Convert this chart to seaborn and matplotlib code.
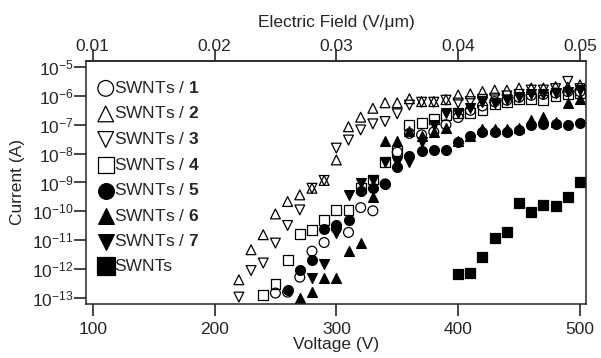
import numpy as np
import pandas as pd
import matplotlib
matplotlib.use("Agg")
import matplotlib.pyplot as plt
import seaborn as sns
from matplotlib.ticker import FixedLocator, NullLocator, FormatStrFormatter

# ================================
# Data (voltage in V, current given as log10 of amps)
# ================================
voltage = [220, 230, 240, 250, 260, 270, 280, 290, 300, 310, 320, 330, 340, 350, 360,
           370, 380, 390, 400, 410, 420, 430, 440, 450, 460, 470, 480, 490, 500]

# SWNTs / 1 (open circle), starts at 250 V
log_i1 = [-12.83, -12.80, -12.28, -11.38, -11.08, -10.60, -10.73, -9.87, -9.98, -9.05,
          -7.95, -7.30, -7.35, -7.25, -7.00, -6.75, -6.50, -6.35, -6.20, -6.15,
          -6.05, -5.98, -5.95, -5.90, -5.85, -5.85]
# SWNTs / 2 (open up triangle), starts at 220 V
log_i2 = [-12.37, -11.33, -10.81, -10.09, -9.66, -9.43, -9.20, -8.93, -8.22, -7.07,
          -6.74, -6.43, -6.24, -6.24, -6.10, -6.20, -6.20, -6.13, -5.97, -5.93,
          -5.85, -5.80, -5.80, -5.73, -5.73, -5.73, -5.68, -5.70, -5.62]
# SWNTs / 3 (open down triangle), starts at 220 V
log_i3 = [-12.97, -12.05, -11.79, -11.10, -10.49, -9.95, -9.20, -8.93, -7.81, -7.53,
          -7.18, -6.97, -6.89, -6.62, -6.32, -6.22, -6.22, -6.15, -6.25, -6.20,
          -6.12, -6.08, -6.00, -5.95, -5.80, -5.80, -5.75, -5.50, -5.75]
# SWNTs / 4 (open square), starts at 240 V
log_i4 = [-12.89, -12.52, -11.68, -10.78, -10.64, -10.29, -9.95, -9.95, -9.20, -8.90,
          -8.28, -7.90, -7.00, -6.95, -6.80, -6.65, -6.60, -6.60, -6.50, -6.30,
          -6.20, -6.10, -6.10, -6.15, -6.00, -5.95, -5.90]
# SWNTs / 5 (filled circle), starts at 260 V
log_i5 = [-12.72, -12.02, -11.68, -10.60, -10.47, -10.29, -9.31, -9.20, -9.05, -8.45,
          -8.10, -7.92, -7.87, -7.87, -7.60, -7.40, -7.25, -7.25, -7.25, -7.18,
          -7.00, -6.97, -6.97, -7.00, -6.93]
# SWNTs / 6 (filled up triangle), starts at 270 V
log_i6 = [-13.00, -12.78, -12.31, -12.31, -11.39, -11.10, -9.50, -7.58, -7.55, -7.20,
          -7.40, -7.25, -7.10, -7.55, -7.40, -7.15, -7.15, -7.15, -7.10, -6.83,
          -6.73, -6.90, -6.26, -6.10]
# SWNTs / 7 (filled down triangle), starts at 280 V
log_i7 = [-12.31, -11.82, -10.75, -9.43, -9.03, -8.91, -8.30, -8.30, -8.30, -7.60,
          -7.00, -6.60, -6.60, -6.43, -6.20, -6.26, -6.14, -6.03, -5.95, -5.95,
          -5.90, -5.85, -5.80]
# bare SWNTs (filled square), starts at 400 V
log_i8 = [-12.16, -12.12, -11.58, -10.93, -10.73, -9.70, -10.04, -9.78, -9.83, -9.49, -8.97]

labels = ["SWNTs / $\\mathbf{1}$", "SWNTs / $\\mathbf{2}$", "SWNTs / $\\mathbf{3}$",
          "SWNTs / $\\mathbf{4}$", "SWNTs / $\\mathbf{5}$", "SWNTs / $\\mathbf{6}$",
          "SWNTs / $\\mathbf{7}$", "SWNTs"]
start_v = [250, 220, 220, 240, 260, 270, 280, 400]
all_logs = [log_i1, log_i2, log_i3, log_i4, log_i5, log_i6, log_i7, log_i8]
markers = ["o", "^", "v", "s", "o", "^", "v", "s"]
filled = [False, False, False, False, True, True, True, True]

y_decades = [-13, -12, -11, -10, -9, -8, -7, -6, -5]
x_ticks = [100, 200, 300, 400, 500]
field_ticks = [0.01, 0.02, 0.03, 0.04, 0.05]

# ================================
# Style
# ================================
sns.set_style("ticks")
plt.rcParams["font.family"] = ["Liberation Sans", "DejaVu Sans"]
plt.rcParams["mathtext.fontset"] = "custom"
plt.rcParams["mathtext.rm"] = "Liberation Sans"
plt.rcParams["mathtext.bf"] = "Liberation Sans:bold"
plt.rcParams["mathtext.it"] = "Liberation Sans:italic"
plt.rcParams["font.size"] = 12.5
plt.rcParams["axes.linewidth"] = 1.1

fig = plt.figure(figsize=(6.01, 3.58), dpi=100)
ax = fig.add_axes([0.1431, 0.1508, 0.832, 0.679])

for label, v0, logs, mk, fill in zip(labels, start_v, all_logs, markers, filled):
    i0 = voltage.index(v0)
    df = pd.DataFrame({"V": voltage[i0:i0 + len(logs)],
                       "I": 10.0 ** np.array(logs)})
    size = 60 if mk == "s" and fill else 50
    sns.scatterplot(data=df, x="V", y="I", marker=mk, s=size, color="black",
                    facecolor="black" if fill else "none", edgecolor="black",
                    linewidth=0.9, ax=ax, label=label)

ax.set_yscale("log")
ax.set_xlim(94.5, 505)
ax.set_ylim(10 ** -13.21, 10 ** -4.79)
ax.set_xticks(x_ticks)
ax.yaxis.set_major_locator(FixedLocator([10.0 ** d for d in y_decades]))
ax.yaxis.set_minor_locator(NullLocator())
ax.tick_params(direction="out", length=8.5, width=1.2, labelsize=12.5)
ax.tick_params(axis="x", pad=4.5)
ax.tick_params(axis="y", pad=0.5)
ax.set_xlabel("Voltage (V)", fontsize=12.5, labelpad=0)
ax.set_ylabel("Current (A)", fontsize=12.5, labelpad=5)

# top axis: electric field across the gap
sec = ax.secondary_xaxis("top", functions=(lambda v: v / 10000.0, lambda e: e * 10000.0))
sec.set_xticks(field_ticks)
sec.xaxis.set_major_formatter(FormatStrFormatter("%.2f"))
sec.tick_params(direction="out", length=8.5, width=1.2, pad=-3.8, labelsize=12.5)
sec.set_xlabel("Electric Field (V/\u03bcm)", fontsize=12.5, labelpad=9)

ax.legend(loc="upper left", bbox_to_anchor=(-0.004, 0.979), frameon=False,
          markerscale=1.6, handlelength=0.9, handletextpad=0.05, labelspacing=0.55,
          borderaxespad=0.4, borderpad=0.4, fontsize=12.5)

fig.savefig("out.png", dpi=100)
